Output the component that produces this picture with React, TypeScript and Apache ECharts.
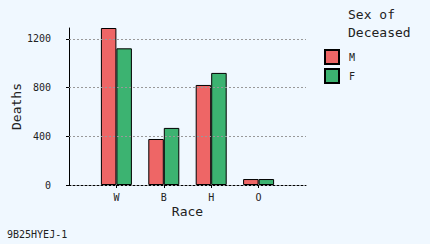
import React, { useEffect, useRef } from "react";
import * as echarts from "echarts";

const races = ["W", "B", "H", "O"];
const male = [1290, 378, 822, 49];
const female = [1123, 469, 921, 49];
const yTicks = [0, 400, 800, 1200];
const seriesNames = ["M", "F"];
const legendTitle = "Sex of\nDeceased";
const footer = "9B25HYEJ-1";

const FONT = "'DejaVu Sans Mono', monospace";

export default function App() {
  const ref = useRef<HTMLDivElement>(null);
  useEffect(() => {
    if (!ref.current) return;
    const chart = echarts.init(ref.current, null, { renderer: "svg" });
    const cats = ["", ...races, ""];
    const pad = (a: number[]) => [null, ...a, null];
    const option: any = {
      animation: false,
      backgroundColor: "#F0F8FF",
      textStyle: { fontFamily: FONT },
      grid: {
        left: 69,
        right: 124,
        top: 28,
        bottom: 59,
        containLabel: false,
        outerBoundsMode: "none",
      },
      legend: {
        orient: "vertical",
        left: 324,
        top: 49,
        padding: 0,
        itemWidth: 14,
        itemHeight: 14,
        itemGap: 3,
        icon: "rect",
        data: seriesNames,
        textStyle: { fontFamily: FONT, fontSize: 10, color: "#222", padding: [0, 0, 0, 5] },
      },
      xAxis: {
        type: "category",
        data: cats,
        boundaryGap: false,
        name: "Race",
        nameLocation: "middle",
        nameGap: 20,
        nameMoveOverlap: false,
        nameTextStyle: { fontFamily: FONT, fontSize: 13, color: "#222" },
        axisLine: { lineStyle: { color: "#000", type: [2, 2], width: 1 } },
        axisTick: {
          show: true,
          length: 3,
          interval: (i: number) => i > 0 && i < cats.length - 1,
          lineStyle: { color: "#000" },
        },
        axisLabel: {
          margin: 7,
          fontFamily: FONT,
          fontSize: 10,
          color: "#222",
          interval: 0,
        },
        splitLine: { show: false },
      },
      yAxis: {
        type: "value",
        min: 0,
        max: 1290,
        interval: 400,
        name: "Deaths",
        nameLocation: "middle",
        nameRotate: 90,
        nameGap: 46,
        nameMoveOverlap: false,
        nameTextStyle: { fontFamily: FONT, fontSize: 13, color: "#222" },
        axisLine: { show: true, lineStyle: { color: "#000", width: 1 } },
        axisTick: { show: true, length: 3, customValues: yTicks, lineStyle: { color: "#000" } },
        axisLabel: {
          customValues: yTicks,
          formatter: (v: number) => String(v),
          margin: 18,
          fontFamily: FONT,
          fontSize: 10,
          color: "#222",
        },
        splitLine: { show: false },
      },
      series: [
        {
          name: seriesNames[0],
          type: "bar",
          data: pad(male),
          barWidth: 15.5,
          barGap: "0%",
          itemStyle: { color: "#EE6666", borderColor: "#000", borderWidth: 1 },
          markLine: {
            silent: true,
            symbol: ["none", "none"],
            label: { show: false },
            lineStyle: { color: "#999", type: [2, 2], width: 1 },
            data: yTicks.filter((v) => v > 0).map((v) => ({ yAxis: v })),
          },
        },
        {
          name: seriesNames[1],
          type: "bar",
          data: pad(female),
          barWidth: 15.5,
          barGap: "0%",
          itemStyle: { color: "#3CB371", borderColor: "#000", borderWidth: 1 },
        },
      ],
      graphic: [
        {
          type: "text",
          left: 348,
          top: 5,
          style: {
            text: legendTitle,
            font: `13px ${FONT}`,
            lineHeight: 18,
            fill: "#222",
          },
        },
        {
          type: "text",
          left: 7,
          top: 229,
          style: { text: footer, font: `10px ${FONT}`, fill: "#222" },
        },
      ],
    };
    chart.setOption(option);
    return () => chart.dispose();
  }, []);
  return (
    <div
      ref={ref}
      style={{ position: "fixed", left: 0, top: 0, width: 430, height: 244, background: "#F0F8FF" }}
    />
  );
}
